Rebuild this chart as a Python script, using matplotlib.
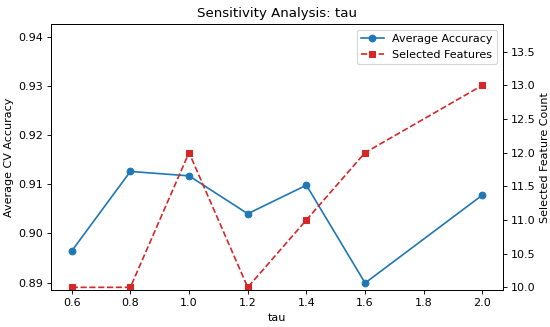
import matplotlib
matplotlib.use("Agg")
import matplotlib.pyplot as plt

# sensitivity sweep over tau
tau_values = [0.6, 0.8, 1.0, 1.2, 1.4, 1.6, 2.0]
avg_accuracy = [0.8964, 0.9126, 0.9117, 0.9040, 0.9098, 0.8899, 0.9078]
n_features = [10, 10, 12, 10, 11, 12, 13]

# draw at 80 dpi so text and markers come out at the reference's scale
fig, ax1 = plt.subplots(figsize=(550 / 80, 327 / 80), dpi=80)

l1 = ax1.plot(tau_values, avg_accuracy, marker='o', color='tab:blue',
              label='Average Accuracy')
ax1.set_xlabel('tau')
ax1.set_ylabel('Average CV Accuracy')
ax1.set_ylim(0.8884, 0.9426)

ax2 = ax1.twinx()
l2 = ax2.plot(tau_values, n_features, marker='s', linestyle='--',
              color='tab:red', label='Selected Features')
ax2.set_ylabel('Selected Feature Count')
ax2.set_ylim(9.955, 13.91)

lines = l1 + l2
ax1.legend(lines, [l.get_label() for l in lines], loc='upper right')
ax1.set_title('Sensitivity Analysis: tau')

fig.subplots_adjust(left=0.093, right=0.9145, top=0.9266, bottom=0.112)
fig.savefig('out.png', dpi=80)
